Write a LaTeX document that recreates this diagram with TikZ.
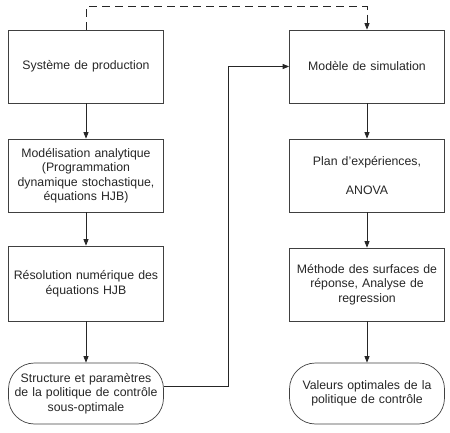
\documentclass[tikz,border=0pt]{standalone}
\usepackage{fontspec}
\setmainfont{Liberation Sans}
\usetikzlibrary{arrows.meta}
\begin{document}
\begin{tikzpicture}[x=1pt,y=1pt,
  every node/.style={font=\fontsize{12.3}{14.5}\selectfont, align=center, text=black!85},
  boxnode/.style={draw=black!75, line width=0.7pt, minimum width=155pt, minimum height=73pt, inner sep=2pt, text width=150pt},
  termnode/.style={draw=black!75, line width=0.7pt, minimum width=155pt, minimum height=61pt, rounded corners=26pt, inner sep=2pt, text width=150pt},
  conn/.style={draw=black!85, line width=0.8pt, -{Triangle[length=6.5pt,width=5pt]}},
  dconn/.style={conn, dash pattern=on 8pt off 5pt}]
\useasboundingbox (0,0) rectangle (450,-433);
\node[boxnode] (L1) at (86,-66.5) {Système de production};
\node[boxnode] (L2) at (86,-175.5) {Modélisation analytique\\(Programmation\\dynamique stochastique,\\équations HJB)};
\node[boxnode, minimum height=75pt] (L3) at (86,-283.5) {Résolution numérique des\\équations HJB};
\node[termnode] (L4) at (86,-393.5) {Structure et paramètres\\de la politique de contrôle\\sous-optimale};
\node[boxnode] (R1) at (367,-66.5) {Modèle de simulation};
\node[boxnode] (R2) at (367,-175.5) {Plan d’expériences,\\[14pt]ANOVA};
\node[boxnode] (R3) at (367,-284.5) {Méthode des surfaces de\\réponse, Analyse de\\regression};
\node[termnode] (R4) at (367,-393.5) {Valeurs optimales de la\\politique de contrôle};
\draw[conn] (L1) -- (L2);
\draw[conn] (L2) -- (L3);
\draw[conn] (L3) -- (L4);
\draw[conn] (R1) -- (R2);
\draw[conn] (R2) -- (R3);
\draw[conn] (R3) -- (R4);
\coordinate (lout) at ([yshift=7.5pt]L4.east);
\draw[conn] (lout) -- ++(65,0) |- (R1.west);
\draw[dconn] (L1.north) -- ++(0,23) -| (R1.north);
\end{tikzpicture}
\end{document}
